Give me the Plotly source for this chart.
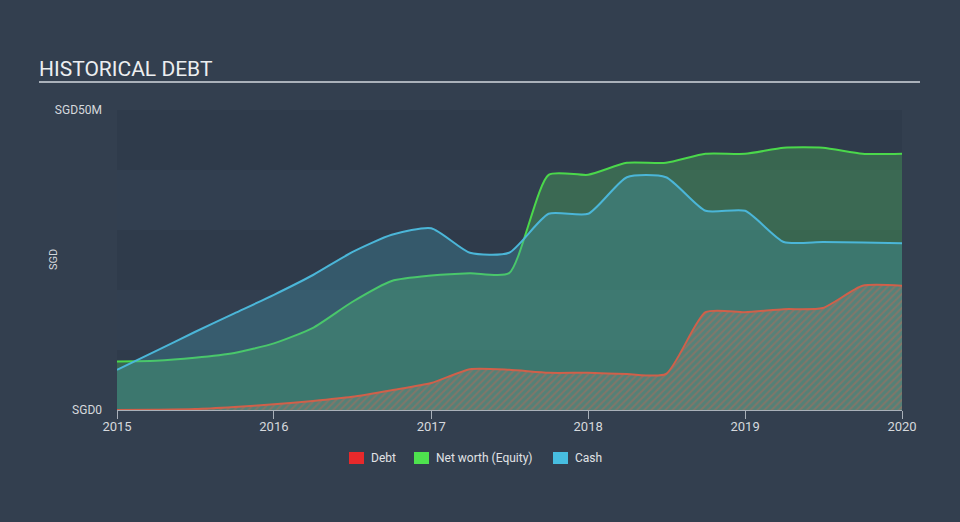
import plotly.graph_objects as go

dates = ["2015-01-01", "2015-04-01", "2015-07-01", "2015-10-01",
         "2016-01-01", "2016-04-01", "2016-07-01", "2016-10-01",
         "2017-01-01", "2017-04-01", "2017-07-01", "2017-10-01",
         "2018-01-01", "2018-04-01", "2018-07-01", "2018-10-01",
         "2019-01-01", "2019-04-01", "2019-07-01", "2019-10-01",
         "2020-01-01"]

debt = [0.0, 0.05, 0.15, 0.5, 0.95, 1.5, 2.2, 3.3, 4.5, 6.8, 6.7, 6.2,
        6.2, 6.0, 6.0, 16.3, 16.3, 16.8, 17.0, 20.7, 20.7]
net_worth = [8.1, 8.2, 8.7, 9.5, 11.1, 13.7, 18.0, 21.5, 22.4, 22.8, 22.8, 39.2,
             39.2, 41.2, 41.2, 42.7, 42.7, 43.7, 43.7, 42.7, 42.7]
cash = [6.7, 9.8, 13.0, 16.1, 19.2, 22.5, 26.3, 29.2, 30.3, 26.2, 26.2, 32.7,
        32.7, 38.8, 38.8, 33.2, 33.2, 28.0, 28.0, 27.9, 27.8]

year_ticks = ["2015-01-01", "2016-01-01", "2017-01-01", "2018-01-01", "2019-01-01", "2020-01-01"]
year_labels = ["2015", "2016", "2017", "2018", "2019", "2020"]
y_ticks = [0, 50]
y_labels = ["SGD0", "SGD50M"]

legend_names = ["Debt", "Net worth (Equity)", "Cash"]
legend_colors = ["#e8292b", "#4ee24e", "#47bde0"]

FONT = "Roboto, 'Open Sans', sans-serif"
SM = 0.6

L, T, W, H = 117, 110, 785, 300


def px_x(px):
    return (px - L) / W


def px_y(py):
    return (T + H - py) / H


fig = go.Figure()

# background bands
for i in range(5):
    fig.add_shape(type="rect", xref="paper", yref="y", x0=0, x1=1,
                  y0=i * 10, y1=(i + 1) * 10, layer="below", line_width=0,
                  fillcolor="#2f3b4b" if i % 2 == 0 else "#323f50")

fig.add_trace(go.Scatter(
    x=dates, y=net_worth, mode="lines", fill="tozeroy",
    line=dict(color="#4bd84b", width=2, shape="spline", smoothing=SM),
    fillcolor="rgba(84,202,92,0.3)", showlegend=False, hoverinfo="skip"))
fig.add_trace(go.Scatter(
    x=dates, y=cash, mode="lines", fill="tozeroy",
    line=dict(color="#4bb6d8", width=2, shape="spline", smoothing=SM),
    fillcolor="rgba(70,159,182,0.3)", showlegend=False, hoverinfo="skip"))
fig.add_trace(go.Scatter(
    x=dates, y=debt, mode="lines", fill="tozeroy",
    line=dict(color="#d0604a", width=2, shape="spline", smoothing=SM),
    fillcolor="rgba(0,0,0,0)",
    fillpattern=dict(shape="/", fgcolor="rgba(205,100,80,0.75)",
                     bgcolor="rgba(150,150,140,0.28)", size=5, solidity=0.35),
    showlegend=False, hoverinfo="skip"))

fig.update_layout(
    width=960, height=522,
    paper_bgcolor="#333f4f", plot_bgcolor="#2f3b4b",
    margin=dict(l=L, r=960 - L - W, t=T, b=522 - T - H, autoexpand=False),
    font=dict(family=FONT, color="#d6d9dd", size=12),
    title=dict(text="HISTORICAL DEBT", x=39 / 960, xanchor="left",
               y=1 - 69 / 522, yanchor="middle", yref="container",
               font=dict(family=FONT, size=21, color="#eceef0")),
    showlegend=False,
    xaxis=dict(type="date", range=["2015-01-01", "2020-01-01"],
               tickvals=year_ticks, ticktext=year_labels,
               showgrid=False, zeroline=False, showline=True,
               linecolor="#a9b0b9", linewidth=1,
               ticks="outside", ticklen=8, tickcolor="#a9b0b9",
               ticklabelstandoff=-4,
               tickfont=dict(size=13, color="#d6d9dd")),
    yaxis=dict(range=[0, 50], tickvals=y_ticks, ticktext=y_labels,
               showgrid=False, zeroline=False, showline=False,
               ticks="", ticklabelstandoff=14,
               tickfont=dict(size=12, color="#d6d9dd")),
)

fig.add_shape(type="line", xref="paper", yref="paper",
              x0=px_x(39), x1=px_x(920), y0=px_y(82), y1=px_y(82),
              line=dict(color="#aab1ba", width=2))

fig.add_annotation(text="SGD", xref="paper", yref="paper",
                   x=px_x(53), y=0.5, xanchor="center", yanchor="middle",
                   textangle=-90, showarrow=False,
                   font=dict(size=11, color="#d6d9dd"))

# custom legend
icon_x = [349, 414, 553]
for name, col, ix in zip(legend_names, legend_colors, icon_x):
    fig.add_shape(type="rect", xref="paper", yref="paper",
                  x0=px_x(ix), x1=px_x(ix + 15), y0=px_y(464), y1=px_y(452),
                  fillcolor=col, line_width=0)
    fig.add_annotation(text=name, xref="paper", yref="paper",
                       x=px_x(ix + 20), y=px_y(458), xanchor="left", yanchor="middle",
                       showarrow=False, font=dict(size=12, color="#e0e2e5"))

fig.write_html("out.html")
